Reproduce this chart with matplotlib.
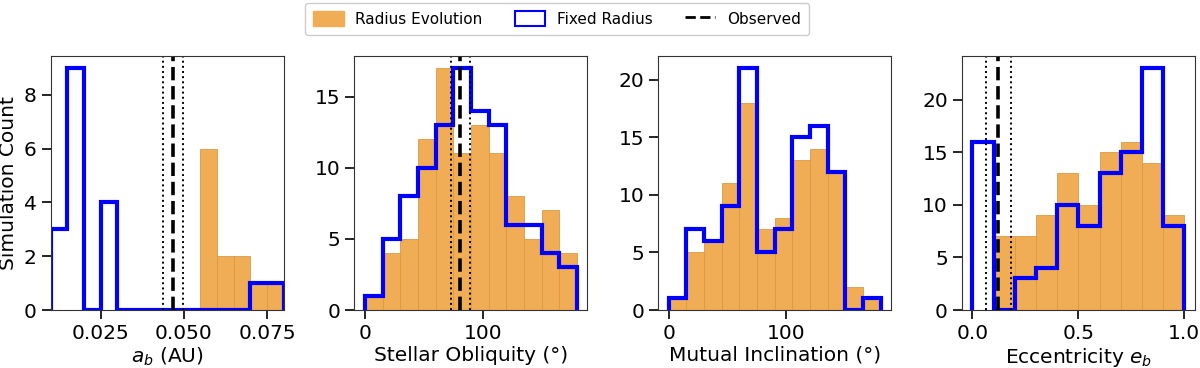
import numpy as np
import matplotlib
matplotlib.use('Agg')
import matplotlib.pyplot as plt
from matplotlib.patches import Patch
from matplotlib.lines import Line2D
from matplotlib.ticker import FormatStrFormatter

plt.rcParams.update({
    'font.size': 14.5,
    'axes.labelsize': 14.5,
    'xtick.labelsize': 14.5,
    'ytick.labelsize': 14.5,
    'xtick.major.size': 6.5,
    'ytick.major.size': 6.5,
    'xtick.major.width': 1.2,
    'ytick.major.width': 1.2,
})

# semi-major axis a_b (AU)
a_edges = np.arange(0.010, 0.0801, 0.005)
a_evol = [0, 0, 0, 0, 0, 0, 0, 0, 0, 6, 2, 2, 1, 1]
a_fixed = [3, 9, 0, 4, 0, 0, 0, 0, 0, 0, 0, 0, 1, 1]
a_obs = [0.0467, 0.0438, 0.0498]

# stellar obliquity (deg)
obl_edges = np.arange(0, 181, 15)
obl_evol = [1, 4, 5, 12, 17, 11, 13, 11, 8, 5, 7, 4]
obl_fixed = [1, 5, 8, 10, 13, 17, 14, 13, 6, 6, 4, 3]
obl_obs = [80.8, 73.2, 89.6]

# mutual inclination (deg)
inc_edges = np.arange(0, 181, 15)
inc_evol = [1, 5, 6, 11, 18, 7, 8, 13, 14, 12, 2, 1]
inc_fixed = [1, 7, 6, 9, 21, 5, 7, 15, 16, 12, 0, 1]

# eccentricity e_b
e_edges = np.linspace(0, 1, 11)
e_evol = [0, 7, 7, 9, 13, 10, 15, 16, 14, 9]
e_fixed = [16, 0, 3, 4, 10, 8, 13, 15, 23, 8]
e_obs = [0.12, 0.0625, 0.18]

orange = '#F0AD55'
orange_edge = '#D99A48'

panels = [
    (a_edges, a_evol, a_fixed, a_obs, r'$a_b$ (AU)'),
    (obl_edges, obl_evol, obl_fixed, obl_obs, 'Stellar Obliquity (°)'),
    (inc_edges, inc_evol, inc_fixed, None, 'Mutual Inclination (°)'),
    (e_edges, e_evol, e_fixed, e_obs, r'Eccentricity $e_b$'),
]

fig, axes = plt.subplots(1, 4, figsize=(12, 3.68), dpi=100)
fig.subplots_adjust(left=0.0422, right=0.9958, top=0.848, bottom=0.1576, wspace=0.303)

for ax, (edges, evol, fixed, obs, xlabel) in zip(axes, panels):
    centers = 0.5 * (edges[:-1] + edges[1:])
    ax.hist(centers, bins=edges, weights=evol, color=orange, edgecolor=orange_edge,
            linewidth=0.6)
    ax.hist(centers, bins=edges, weights=fixed, histtype='step', color='blue', linewidth=3)
    if obs is not None:
        ax.axvline(obs[0], color='black', linestyle='--', linewidth=2.6)
        ax.axvline(obs[1], color='black', linestyle=':', linewidth=1.4)
        ax.axvline(obs[2], color='black', linestyle=':', linewidth=1.4)
    ax.set_xlabel(xlabel, labelpad=2)
    for s in ax.spines.values():
        s.set_color('#333333')

axes[0].set_xlim(0.010, 0.080)
axes[0].set_xticks([0.025, 0.050, 0.075])
axes[0].xaxis.set_major_formatter(FormatStrFormatter('%.3f'))
axes[0].set_yticks([0, 2, 4, 6, 8])
axes[0].set_ylabel('Simulation Count')
axes[1].set_xticks([0, 100])
axes[1].set_yticks([0, 5, 10, 15])
axes[2].set_xticks([0, 100])
axes[2].set_yticks([0, 5, 10, 15, 20])
axes[3].set_xticks([0.0, 0.5, 1.0])
axes[3].set_yticks([0, 5, 10, 15, 20])

handles = [
    Patch(facecolor=orange, edgecolor=orange, label='Radius Evolution'),
    Patch(facecolor='white', edgecolor='blue', linewidth=1.5, label='Fixed Radius'),
    Line2D([0], [0], color='black', linestyle='--', linewidth=2, label='Observed'),
]
fig.legend(handles=handles, loc='upper center', bbox_to_anchor=(557 / 1200, 1 - 1 / 368),
           ncol=3, fontsize=11, handleheight=1.15, handlelength=2.0, columnspacing=2.1,
           handletextpad=0.75, borderpad=0.55, borderaxespad=0.1, framealpha=1)

fig.savefig('out.png', dpi=100)
